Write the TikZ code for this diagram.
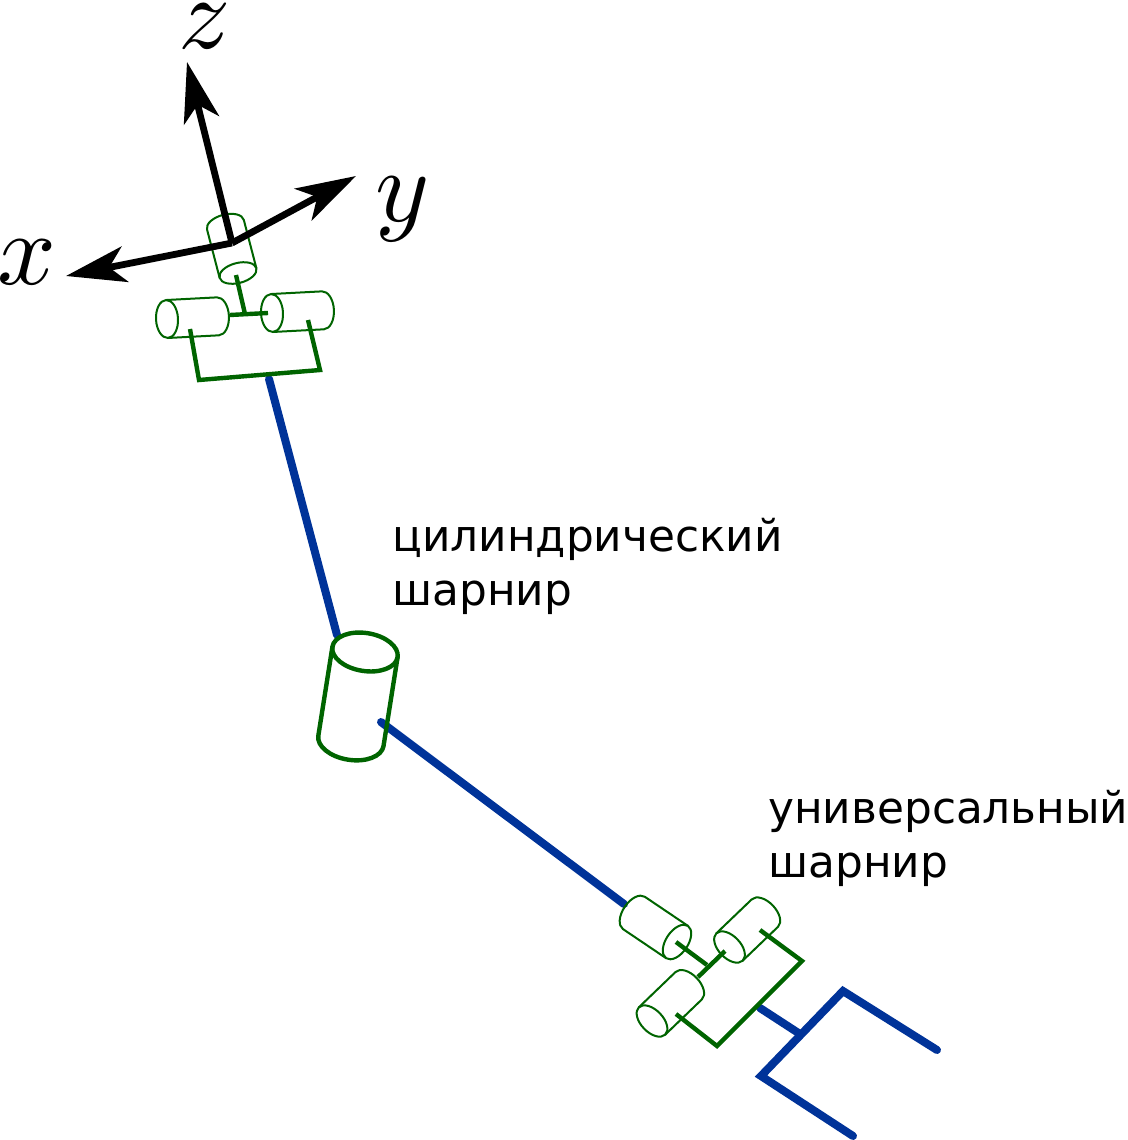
\documentclass[tikz,border=0pt]{standalone}
\usepackage{fontspec}
\setmainfont{DejaVu Sans}
\usetikzlibrary{arrows.meta}
\definecolor{linkblue}{HTML}{003399}
\definecolor{jointgreen}{HTML}{006400}
\tikzset {
  % cylinder: length / half depth of the end / radius, open end at the origin
  pics/cyl/.style args = {#1/#2/#3}{
    code = {
      \draw (0,0) ellipse [x radius = #2, y radius = #3];
      \draw (0,#3) -- (#1,#3)
      arc [start angle = 90, end angle = -90, x radius = #2, y radius = #3]
      -- (0,-#3);
    }
  },
  small joint/.style = {
    color = jointgreen,
    line width = 1pt
  },
  big joint/.style = {
    color = jointgreen,
    line width = 2.2pt
  },
  % brackets and pins of the joints
  pin/.style = {
    draw = jointgreen,
    line width = 2.2pt,
    line join = miter
  },
  link/.style = {
    draw = linkblue,
    line width = 4pt,
    line cap = round
  },
  axis/.style = {
    draw = black,
    line width = 3.4pt,
    -{Stealth[length = 30pt, width = 18pt, inset = 8pt]}
  },
  axis label/.style = {
    scale = 5.15,
    inner sep = 0
  },
  joint label/.style = {
    align = left,
    anchor = north west,
    inner sep = 0,
    font = \fontsize{21.9}{27}\selectfont
  }
}
\begin{document}
\begin{tikzpicture}[x = 0.5pt, y = -0.5pt]
  \useasboundingbox (0,0) rectangle (1128,1140);

  % links
  \coordinate (link1a) at (269,379);
  \coordinate (link1b) at (337,635);
  \coordinate (link2a) at (381,722);
  \coordinate (link2b) at (624,904);
  \coordinate (stem) at (760,1008);
  \coordinate (forkmid) at (800,1034);
  \coordinate (fork1) at (937,1050);
  \coordinate (fork2) at (843,991);
  \coordinate (fork3) at (761,1076);
  \coordinate (fork4) at (853,1136);
  \draw[link] (link1a) -- (link1b);
  \draw[link] (link2a) -- (link2b);
  \draw[link] (stem) -- (forkmid);
  \draw[link] (fork1) -- (fork2) -- (fork3) -- (fork4);

  % upper universal joint
  \pic[small joint, rotate = 104.6] at (238,273) {cyl = {50/10/19}};
  \pic[small joint, rotate = 3] at (167,319) {cyl = {51/11/19}};
  \pic[small joint, rotate = 3] at (272,313) {cyl = {51/11/19}};
  \coordinate (cross1a) at (230,315);
  \coordinate (cross1b) at (268,313);
  \coordinate (stem1a) at (236,275);
  \coordinate (stem1b) at (245,314);
  \coordinate (brack1a) at (190,329);
  \coordinate (brack1b) at (199,380);
  \coordinate (brack1c) at (320,370);
  \coordinate (brack1d) at (308,320);
  \draw[pin] (cross1a) -- (cross1b);
  \draw[pin] (stem1a) -- (stem1b);
  \draw[pin] (brack1a) -- (brack1b) -- (brack1c) -- (brack1d);

  % cylindrical joint
  \pic[big joint, rotate = 261] at (365,652) {cyl = {90/19/33}};

  % lower universal joint
  \pic[small joint, rotate = 146] at (677,942) {cyl = {52/11/19.5}};
  \pic[small joint, rotate = 43.8] at (729.5,947) {cyl = {49/11/19}};
  \pic[small joint, rotate = 43.9] at (652,1021) {cyl = {51/11/19}};
  \coordinate (stem2a) at (676,942);
  \coordinate (stem2b) at (707,965);
  \coordinate (cross2a) at (725,951);
  \coordinate (cross2b) at (698,977);
  \coordinate (brack2a) at (760,930);
  \coordinate (brack2b) at (802,961);
  \coordinate (brack2c) at (717,1046);
  \coordinate (brack2d) at (676,1014);
  \draw[pin] (stem2a) -- (stem2b);
  \draw[pin] (cross2a) -- (cross2b);
  \draw[pin] (brack2a) -- (brack2b) -- (brack2c) -- (brack2d);

  % frame
  \coordinate (origin) at (232,243);
  \coordinate (xtip) at (66,276);
  \coordinate (ytip) at (356,176);
  \coordinate (ztip) at (187,62);
  \draw[axis] (origin) -- (xtip);
  \draw[axis] (origin) -- (ytip);
  \draw[axis] (origin) -- (ztip);
  \node[axis label] (xlabel) at (27,262) {$x$};
  \node[axis label] (ylabel) at (403,209) {$y$};
  \node[axis label] (zlabel) at (205,26) {$z$};

  \node[joint label] (cyllabel) at (392,518) {цилиндрический\\шарнир};
  \node[joint label] (unilabel) at (768,790) {универсальный\\шарнир};
\end{tikzpicture}
\end{document}
